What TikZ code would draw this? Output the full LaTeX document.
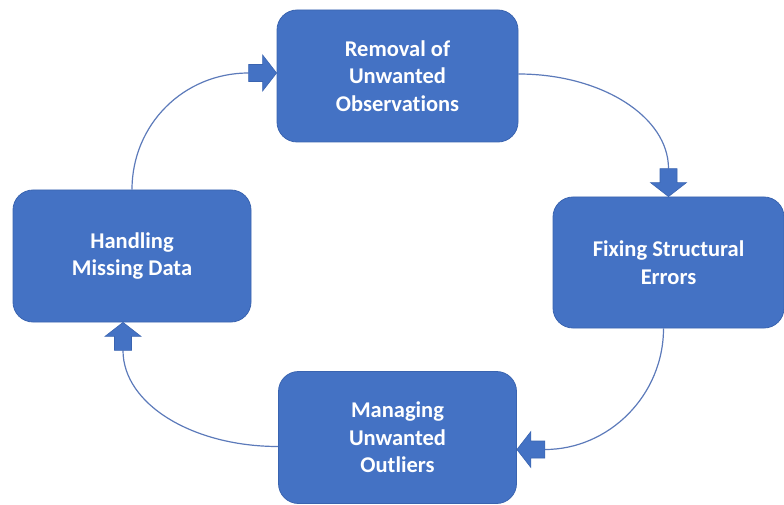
\documentclass[tikz,border=0pt]{standalone}
\usepackage{fontspec}
\setmainfont[Ligatures=NoCommon]{Carlito}
\usetikzlibrary{calc}

\definecolor{boxblue}{HTML}{4472C4}
\definecolor{boxedge}{HTML}{3A64B0}
\definecolor{linkblue}{RGB}{92,122,186}

\tikzset{
  stagebox/.style={rectangle, rounded corners=20pt, fill=boxblue, draw=boxedge,
    line width=0.8pt, text=white, align=center,
    font=\bfseries\fontsize{22.5}{27.5}\selectfont, inner sep=0pt},
  link/.style={draw=linkblue, line width=1.2pt},
  blockarrowfill/.style={fill=boxblue, draw=boxedge, line width=0.6pt, line join=miter}
}

% block arrow: #1 tip coordinate, #2 direction of travel (canvas angle)
\newcommand\blockarr[2]{%
  \begin{scope}[shift={(#1)}, rotate=#2]
    \path[blockarrowfill] (0,0) -- (-14,18) -- (-14,8.5) -- (-28,8.5)
      -- (-28,-8.5) -- (-14,-8.5) -- (-14,-18) -- cycle;
  \end{scope}}

\begin{document}
\begin{tikzpicture}[x=1pt, y=-1pt]
  \useasboundingbox (0,0) rectangle (784,505);

  % process stages
  \node[stagebox, minimum width=241pt, minimum height=132pt] (top)    at (397.5,76)  {Removal of\\Unwanted\\Observations};
  \node[stagebox, minimum width=231pt, minimum height=131pt] (right)  at (668.5,262.5) {Fixing Structural\\Errors};
  \node[stagebox, minimum width=238pt, minimum height=132pt] (bottom) at (397.5,437.5) {Managing\\Unwanted\\Outliers};
  \node[stagebox, minimum width=238pt, minimum height=132pt] (left)   at (132,256)   {Handling\\Missing Data};

  % arrow tips and tails
  \coordinate (t1) at ($(top.west)+(0,-3)$);
  \coordinate (t2) at (right.north);
  \coordinate (t3) at ($(bottom.east)+(0,12)$);
  \coordinate (t4) at ($(left.south)+(-9,0)$);
  \coordinate (b1) at ($(t1)+(-28,0)$);
  \coordinate (b2) at ($(t2)+(0,-28)$);
  \coordinate (b3) at ($(t3)+(28,0)$);
  \coordinate (b4) at ($(t4)+(0,28)$);
  \coordinate (s1) at ($(top.east)+(0,-2)$);
  \coordinate (s2) at ($(right.south)+(-5,0)$);
  \coordinate (s3) at ($(bottom.west)+(0,9)$);
  \coordinate (s4) at (left.north);

  % curved connectors of the cycle
  \path[link] (s1) .. controls +(83,0) and +(0,-52) .. (b2);
  \path[link] (s2) .. controls +(0,67) and +(64,0) .. (b3);
  \path[link] (s3) .. controls +(-85,0) and +(0,54) .. (b4);
  \path[link] (s4) .. controls +(0,-65) and +(-65,0) .. (b1);

  % block arrowheads
  \blockarr{t1}{0}
  \blockarr{t2}{-90}
  \blockarr{t3}{180}
  \blockarr{t4}{90}
\end{tikzpicture}
\end{document}
